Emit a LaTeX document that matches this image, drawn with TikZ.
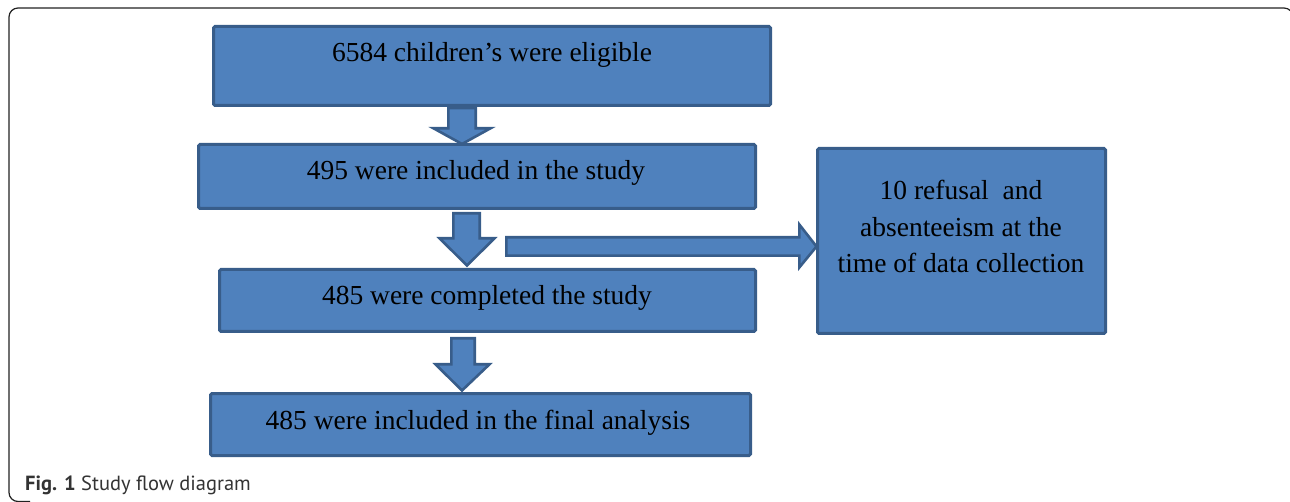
\documentclass[tikz,border=0pt]{standalone}
\usepackage{fontspec}
\setmainfont{Liberation Serif}
\newfontfamily\capfont{PT Sans}
\definecolor{boxfill}{HTML}{4F81BD}
\definecolor{boxline}{HTML}{385D8A}
\definecolor{framecol}{HTML}{222222}
\begin{document}
\begin{tikzpicture}[x=1pt,y=-1pt,
  flowbox/.style={draw=boxline,fill=boxfill,line width=3pt,rounded corners=1.5pt,inner sep=0pt},
  blockarrow/.style={draw=boxline,fill=boxfill,line width=2.6pt,line join=miter},
  flowtext/.style={anchor=base,inner sep=0pt,font=\fontsize{27.5}{32}\selectfont,text=black},
  captext/.style={anchor=base west,inner sep=0pt,font=\capfont\fontsize{20.5}{24}\selectfont,text=black!80}]
\useasboundingbox (0,0) rectangle (1290,502);
% frame
\draw[framecol,line width=1.2pt,rounded corners=9pt] (30,501.5) -- (9,501.5) -- (9,8) -- (1293,8) -- (1293,40);
% boxes
\draw[flowbox] (213.5,26.5) rectangle (770.5,105.5);
\draw[flowbox] (198.5,144.5) rectangle (755.5,208.5);
\draw[flowbox] (219.5,269.5) rectangle (755.5,331.5);
\draw[flowbox] (210.5,393.5) rectangle (750.5,455.5);
\draw[flowbox] (817.5,148.5) rectangle (1105.5,333.5);
% arrows
\draw[blockarrow] (448.3,108) -- (475.7,108) -- (475.7,128.3) -- (490.5,128.3) -- (462,144) -- (433.5,128.3) -- (448.3,128.3) -- cycle;
\draw[blockarrow] (453.3,213.3) -- (479.7,213.3) -- (479.7,238.3) -- (494.5,238.3) -- (467,265.5) -- (439.5,238.3) -- (453.3,238.3) -- cycle;
\draw[blockarrow] (451.3,338.3) -- (474.7,338.3) -- (474.7,364.3) -- (489.5,364.3) -- (462,390.5) -- (435.5,364.3) -- (451.3,364.3) -- cycle;
\draw[blockarrow] (506.3,237.3) -- (799.3,237.3) -- (799.3,224.5) -- (816.5,246.5) -- (799.3,267.5) -- (799.3,255.7) -- (506.3,255.7) -- cycle;
% texts
\node[flowtext] (t1) at (492,62) {6584 children’s were eligible};
\node[flowtext] (t2) at (476,180) {495 were included in the study};
\node[flowtext] (t3) at (487,305) {485 were completed the study};
\node[flowtext] (t4) at (478,429) {485 were included in the final analysis};
\node[flowtext] (t5a) at (961,200) {10 refusal\ \ and};
\node[flowtext] (t5b) at (961,237) {absenteeism at the};
\node[flowtext] (t5c) at (961,273) {time of data collection};
\node[captext] (cap) at (25,490) {\textbf{Fig. 1} Study flow diagram};
\end{tikzpicture}
\end{document}
